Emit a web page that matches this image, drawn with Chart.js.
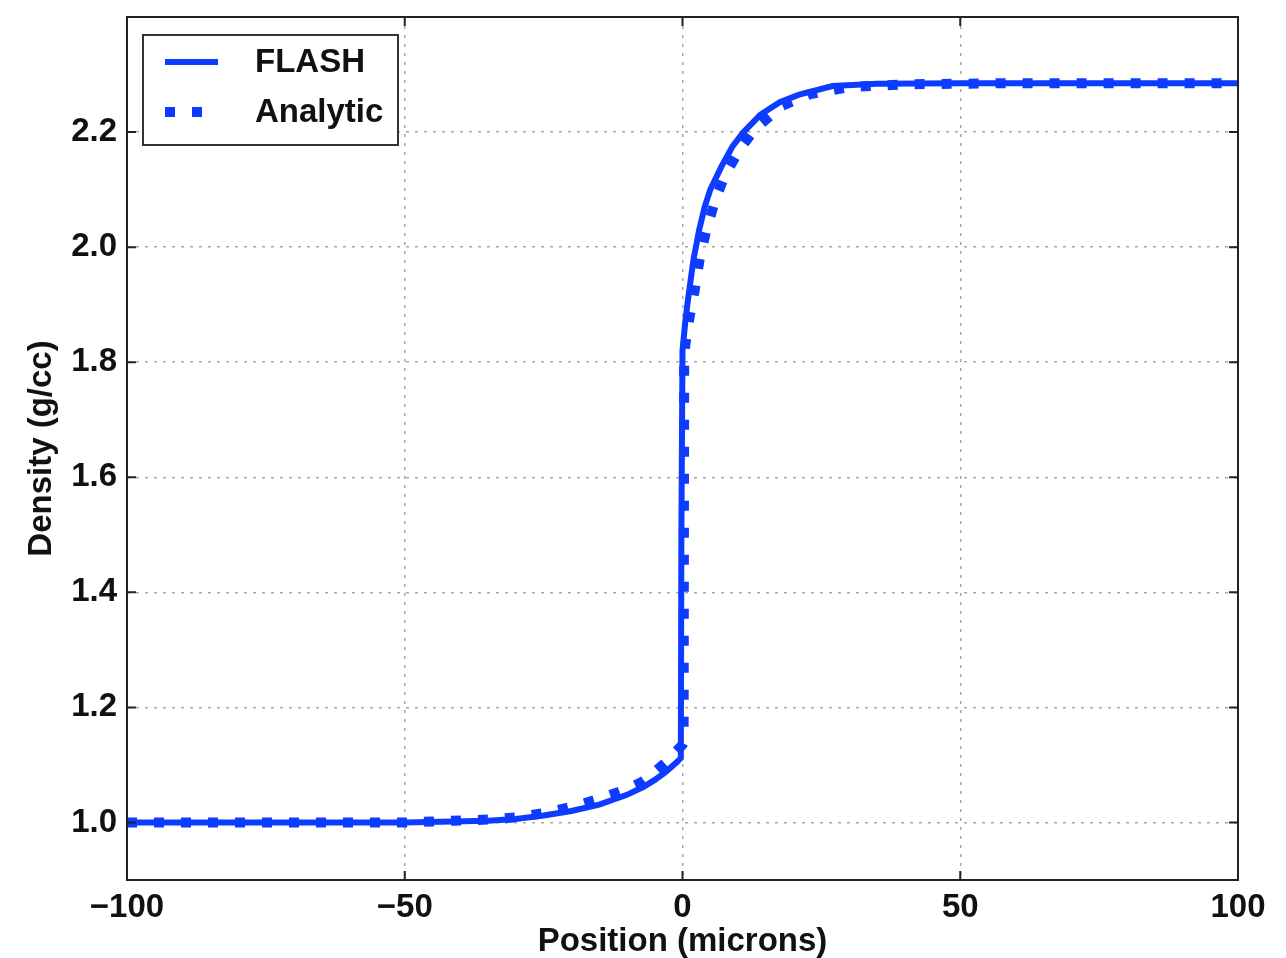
<!DOCTYPE html>
<html>
<head>
<meta charset="utf-8">
<script src="https://cdn.jsdelivr.net/npm/chart.js@4.4.1/dist/chart.umd.min.js"></script>
<style>
  html, body { margin: 0; padding: 0; background: #fff; }
</style>
</head>
<body>
<canvas id="densityChart" width="1286" height="958"></canvas>
<script>
// FLASH simulation profile
const flashX = [-100, -50, -35, -30, -25, -20, -15, -10, -7, -5, -3, -1, -0.3, -0.2, 0, 0.5, 1, 2, 3, 4, 5, 7, 9, 11, 14, 17.5, 21, 27, 35, 50, 100];
const flashY = [1.0, 1.0, 1.003, 1.006, 1.012, 1.02, 1.031, 1.048, 1.062, 1.074, 1.088, 1.105, 1.112, 1.5, 1.82, 1.87, 1.91, 1.98, 2.03, 2.07, 2.10, 2.14, 2.175, 2.2, 2.23, 2.252, 2.265, 2.28, 2.284, 2.285, 2.285];

// Analytic solution
const analyticX = [-100, -50, -35, -30, -25, -20, -15, -10, -7, -5, -3, -1.5, 0, 0.2, 0.3, 0.5, 1.3, 2.2, 3.1, 4.3, 6, 7.6, 10.3, 13, 18, 23, 30, 40, 60, 100];
const analyticY = [1.0, 1.0, 1.005, 1.009, 1.016, 1.027, 1.041, 1.058, 1.072, 1.088, 1.105, 1.12, 1.135, 1.14, 1.80, 1.83, 1.88, 1.925, 1.98, 2.03, 2.085, 2.124, 2.17, 2.205, 2.246, 2.266, 2.278, 2.283, 2.285, 2.285];

const xTicks = [-100, -50, 0, 50, 100];
const yTicks = [1.0, 1.2, 1.4, 1.6, 1.8, 2.0, 2.2];

const blue = '#0d3bff';
const fontFamily = '"Liberation Sans", Arial, sans-serif';
const labelFont = { family: fontFamily, size: 33, weight: 'bold' };

function toPoints(xs, ys) {
  return xs.map((x, i) => ({ x: x, y: ys[i] }));
}

const frame = {
  id: 'frame',
  afterDraw(chart) {
    const { ctx, chartArea: a, scales: { x, y } } = chart;
    ctx.save();
    ctx.strokeStyle = '#222';
    ctx.lineWidth = 2;
    ctx.beginPath();
    xTicks.forEach(v => {
      const px = x.getPixelForValue(v);
      ctx.moveTo(px, a.bottom); ctx.lineTo(px, a.bottom - 9);
      ctx.moveTo(px, a.top); ctx.lineTo(px, a.top + 9);
    });
    yTicks.forEach(v => {
      const py = y.getPixelForValue(v);
      ctx.moveTo(a.left, py); ctx.lineTo(a.left + 9, py);
      ctx.moveTo(a.right, py); ctx.lineTo(a.right - 9, py);
    });
    ctx.stroke();
    ctx.strokeRect(a.left, a.top, a.right - a.left, a.bottom - a.top);

    // legend box
    const lx = a.left + 16, ly = a.top + 18, lw = 255, lh = 110;
    ctx.fillStyle = '#fff';
    ctx.fillRect(lx, ly, lw, lh);
    ctx.lineWidth = 2;
    ctx.strokeStyle = '#333';
    ctx.strokeRect(lx, ly, lw, lh);
    chart.data.datasets.forEach((ds, i) => {
      const cy = ly + 27 + i * 50;
      ctx.strokeStyle = ds.borderColor;
      ctx.lineWidth = ds.borderWidth;
      ctx.lineCap = 'butt';
      ctx.setLineDash(ds.borderDash || []);
      ctx.beginPath();
      ctx.moveTo(lx + 22, cy);
      ctx.lineTo(lx + 75, cy);
      ctx.stroke();
      ctx.setLineDash([]);
      ctx.fillStyle = '#111';
      ctx.font = 'bold 33px ' + fontFamily;
      ctx.textBaseline = 'middle';
      ctx.textAlign = 'left';
      ctx.fillText(ds.label, lx + 112, cy + 1);
    });
    ctx.restore();
  }
};

new Chart(document.getElementById('densityChart'), {
  type: 'line',
  data: {
    datasets: [
      {
        label: 'FLASH',
        data: toPoints(flashX, flashY),
        borderColor: blue,
        borderWidth: 6,
        pointRadius: 0,
        tension: 0
      },
      {
        label: 'Analytic',
        data: toPoints(analyticX, analyticY),
        borderColor: blue,
        borderWidth: 10,
        borderDash: [10, 17],
        borderCapStyle: 'butt',
        pointRadius: 0,
        tension: 0
      }
    ]
  },
  options: {
    responsive: false,
    animation: false,
    layout: { padding: { top: 17, right: 48, left: 0, bottom: 0 } },
    plugins: { legend: { display: false }, tooltip: { enabled: false } },
    scales: {
      x: {
        type: 'linear',
        min: -100,
        max: 100,
        afterBuildTicks: s => { s.ticks = xTicks.map(v => ({ value: v })); },
        afterFit: s => { s.height = 78; s.paddingLeft = 0; s.paddingRight = 0; },
        grid: { color: '#a8a8a8', lineWidth: 1.5, drawTicks: false },
        border: { display: false, dash: [3, 6] },
        ticks: {
          padding: 8,
          color: '#111',
          font: labelFont,
          maxRotation: 0,
          callback: v => String(v).replace('-', '\u2212')
        },
        title: {
          display: true,
          text: 'Position (microns)',
          color: '#111',
          font: { family: fontFamily, size: 33, weight: 'bold', lineHeight: 1.0 },
          padding: { top: 0, bottom: 0 }
        }
      },
      y: {
        min: 0.9,
        max: 2.4,
        afterBuildTicks: s => { s.ticks = yTicks.map(v => ({ value: v })); },
        afterFit: s => { s.width = 127; s.paddingTop = 0; s.paddingBottom = 0; },
        grid: { color: '#a8a8a8', lineWidth: 1.5, drawTicks: false },
        border: { display: false, dash: [3, 6] },
        ticks: {
          padding: 10,
          color: '#111',
          font: labelFont,
          callback: v => v.toFixed(1)
        },
        title: {
          display: true,
          text: 'Density (g/cc)',
          color: '#111',
          font: labelFont,
          padding: { top: 22, bottom: 0 }
        }
      }
    }
  },
  plugins: [frame]
});
</script>
</body>
</html>
